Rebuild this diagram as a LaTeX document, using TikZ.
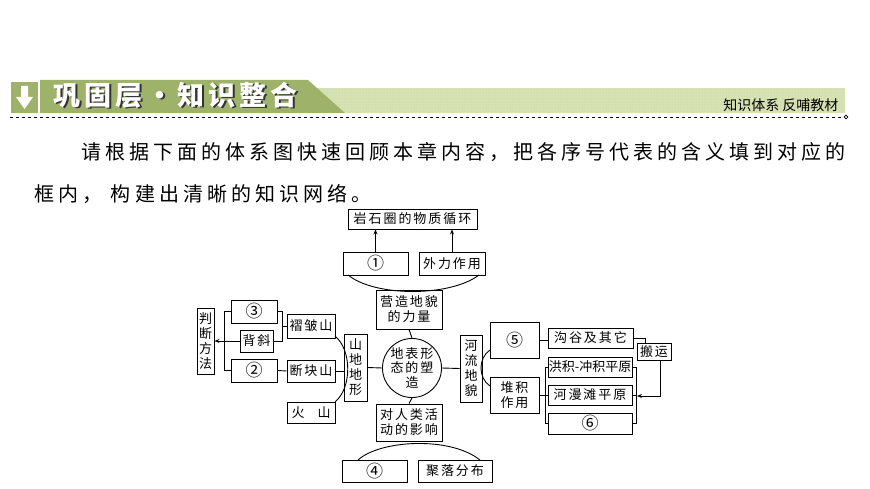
\documentclass[tikz,border=0pt]{standalone}
\usepackage{fontspec}
\setmainfont{Noto Sans CJK SC}
\newfontfamily\spaced[LetterSpace=15]{Noto Sans CJK SC}
\newfontfamily\pspaced[LetterSpace=20]{Noto Sans CJK SC}
\usetikzlibrary{arrows.meta,patterns}
\definecolor{bgreen}{RGB}{158,178,106}
\definecolor{lgreen}{RGB}{214,226,178}
\begin{document}
\begin{tikzpicture}[x=1pt,y=-1pt,
  bx/.style={draw,line width=0.9pt,inner sep=0pt,font=\spaced\fontsize{13}{15}\selectfont},
  num/.style={font=\fontsize{17}{17}\selectfont},
  ln/.style={line width=0.9pt},
  arr/.style={ln,-{Stealth[length=5pt,width=4pt]}}]
\useasboundingbox (0,0) rectangle (870,489);
% header
\fill[lgreen] (310,88) rectangle (845,113);
\fill[pattern=dots,pattern color=bgreen!60] (310,88) rectangle (845,113);
\fill[bgreen] (40,80) -- (308,80) -- (345,113) -- (40,113) -- cycle;
\fill[bgreen] (11,82) rectangle (38,113);
\fill[white] (21,86) -- (28,86) -- (28,97) -- (33,97) -- (24.5,109) -- (16,97) -- (21,97) -- cycle;
\node[font=\spaced\fontsize{27}{28}\bfseries\selectfont,text=black!80,anchor=west] (titles) at (51.5,96.5)
  {巩固层·知识整合};
\node[font=\spaced\fontsize{27}{28}\bfseries\selectfont,text=white,anchor=west] (title) at (50,95)
  {巩固层·知识整合};
\node[font=\fontsize{14}{15}\selectfont,anchor=east] (sub) at (842,105) {知识体系\ 反哺教材};
\draw[dashed,line width=0.7pt] (10,117) -- (842,117);
\node[draw,circle,inner sep=1.3pt,line width=0.6pt] (endc) at (846,117) {};
% paragraph
\node[font=\pspaced\fontsize{20}{21}\selectfont,anchor=west] (p1) at (78,152)
  {请根据下面的体系图快速回顾本章内容，把各序号代表的含义填到对应的};
\node[font=\pspaced\fontsize{20}{21}\selectfont,anchor=west] (p2) at (31,194)
  {框内，\ 构建出清晰的知识网络。};
% top
\node[bx,minimum width=129pt,minimum height=20pt] (yan) at (412.5,219) {岩石圈的物质循环};
\node[bx,num,minimum width=65pt,minimum height=23pt] (n1) at (375.5,263.5) {①};
\node[bx,minimum width=66pt,minimum height=23pt] (wai) at (452,263.5) {外力作用};
\draw[arr] (n1.north) -- (n1.north|-yan.south);
\draw[arr] (wai.north) -- (wai.north|-yan.south);
\node[bx,minimum width=66pt,minimum height=39pt,align=center] (ying) at (409,309.5) {营造地貌\\的力量};
\draw[ln] (348,275) .. controls (375,297) and (450,297) .. (479,275);
% center
\node[draw,circle,line width=0.9pt,minimum size=58pt,inner sep=0pt,align=center,font=\spaced\fontsize{13}{14.5}\selectfont] (c) at (412,368) {地表形\\态的塑\\造};
\node[bx,minimum width=66pt,minimum height=37pt,align=center] (ren) at (409,422.5) {对人类活\\动的影响};
\draw[ln] (ying.south) -- (c.north);
\draw[ln] (c.south) -- (ren.north);
\node[bx,num,minimum width=65pt,minimum height=22pt] (n4) at (374.5,471) {④};
\node[bx,minimum width=74pt,minimum height=22pt] (ju) at (455,471) {聚落分布};
\draw[ln] (358,460) .. controls (380,440) and (450,436) .. (480,460);
% left
\node[bx,minimum width=23pt,minimum height=67pt,align=center] (shan) at (355.5,367.5) {山\\地\\地\\形};
\draw[ln] (shan.east) -- (c.west);
\node[bx,minimum width=48pt,minimum height=24pt] (zhe) at (311,326) {褶皱山};
\node[bx,minimum width=48pt,minimum height=22pt] (duan) at (311,371) {断块山};
\node[bx,minimum width=48pt,minimum height=21pt] (huo) at (311,412.5) {火\quad 山};
\draw[ln] (duan.east) -- (duan.east-|shan.west);
\draw[ln] (335,336) .. controls (352,350) and (352,388) .. (335,402);
\node[bx,num,minimum width=46pt,minimum height=23pt] (n3) at (254,311.5) {③};
\node[bx,minimum width=33pt,minimum height=22pt] (bei) at (256.5,341) {背斜};
\node[bx,num,minimum width=46pt,minimum height=23pt] (n2) at (254,370.5) {②};
\node[bx,minimum width=17pt,minimum height=66pt,align=center] (pan) at (205.5,341) {判\\断\\方\\法};
\coordinate (rb) at (282,326);
\draw[ln] (n3.east) -| (282,341) -- (bei.east);
\draw[ln] (rb) -- (zhe.west);
\draw[ln] (n2.east) -- (duan.west);
\draw[ln] (n3.west) -- (224,311.5) -- (224,370.5) -- (n2.west);
\draw[arr] (bei.west) -- (pan.east);
% right
\node[bx,minimum width=22pt,minimum height=67pt,align=center] (he) at (471,368.5) {河\\流\\地\\貌};
\draw[ln] (c.east) -- (he.west);
\node[bx,num,minimum width=49pt,minimum height=36pt] (n5) at (514.5,340) {⑤};
\node[bx,minimum width=49pt,minimum height=36pt,align=center] (dui) at (514.5,395) {堆积\\作用};
\draw[ln] (490,350) .. controls (478,358) and (478,378) .. (490,386);
\node[bx,minimum width=85pt,minimum height=20pt] (gou) at (590.5,338) {沟谷及其它};
\node[bx,minimum width=34pt,minimum height=17pt] (ban) at (654,351.5) {搬运};
\node[bx,minimum width=84pt,minimum height=20pt,font=\fontsize{13}{15}\selectfont] (hong) at (590,367) {洪积-冲积平原};
\node[bx,minimum width=84pt,minimum height=20pt] (man) at (590,395) {河漫滩平原};
\node[bx,num,minimum width=84pt,minimum height=21pt] (n6) at (590,423.5) {⑥};
\draw[ln] (n5.east) -- (n5.east-|gou.west);
\draw[ln] (dui.east) -- (man.west);
\draw[ln] (hong.west) -- (545,367) -- (545,423.5) -- (n6.west);
\draw[ln] (hong.east) -- (636,367) -- (636,423.5) -- (n6.east);
\draw[ln] (man.east) -- (636,395);
\draw[ln] (gou.east) -| (645,343);
\draw[arr] (660,360) |- (637,396);
\end{tikzpicture}
\end{document}
